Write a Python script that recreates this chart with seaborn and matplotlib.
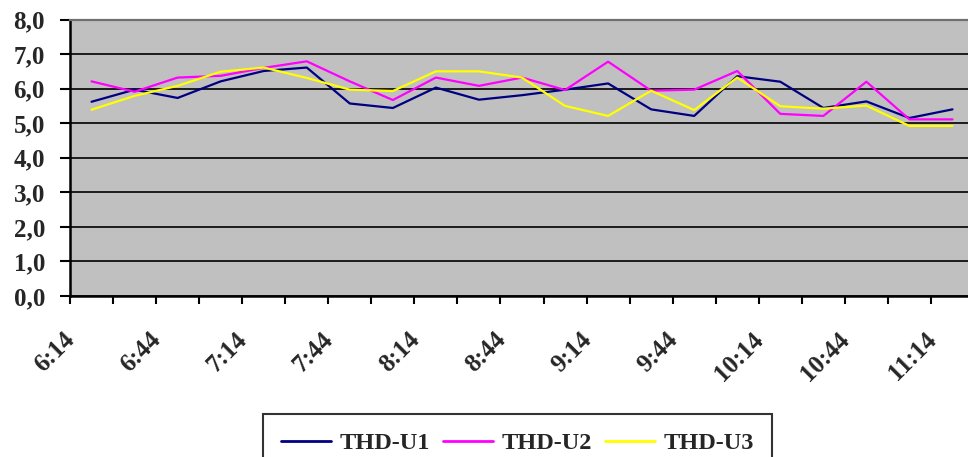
import matplotlib
matplotlib.use("Agg")
import matplotlib.pyplot as plt
import seaborn as sns
import pandas as pd
import numpy as np
from matplotlib.lines import Line2D

times = ["6:14", "6:29", "6:44", "6:59", "7:14", "7:29", "7:44", "7:59", "8:14", "8:29",
         "8:44", "8:59", "9:14", "9:29", "9:44", "9:59", "10:14", "10:29", "10:44", "10:59", "11:14"]
thd_u1 = [5.62, 5.97, 5.73, 6.21, 6.51, 6.61, 5.57, 5.44, 6.03, 5.68,
          5.81, 5.97, 6.15, 5.40, 5.21, 6.36, 6.20, 5.44, 5.63, 5.15, 5.40]
thd_u2 = [6.21, 5.91, 6.32, 6.37, 6.60, 6.79, 6.21, 5.67, 6.32, 6.08,
          6.32, 5.96, 6.78, 5.94, 5.97, 6.51, 5.27, 5.21, 6.20, 5.11, 5.11]
thd_u3 = [5.39, 5.79, 6.08, 6.49, 6.61, 6.31, 5.97, 5.93, 6.50, 6.50,
          6.32, 5.50, 5.21, 5.94, 5.38, 6.32, 5.49, 5.42, 5.51, 4.92, 4.92]
series_names = ["THD-U1", "THD-U2", "THD-U3"]
colors = ["#000080", "#FF00FF", "#FFFF00"]

sns.set_style("white")
plt.rcParams["font.family"] = ["Liberation Serif", "DejaVu Serif"]
plt.rcParams["font.weight"] = "bold"

idx = np.arange(len(times))
df = pd.DataFrame({
    "idx": np.concatenate([idx, idx, idx]),
    "value": thd_u1 + thd_u2 + thd_u3,
    "series": [series_names[0]] * len(times) + [series_names[1]] * len(times) + [series_names[2]] * len(times),
})

fig = plt.figure(figsize=(9.68, 4.57), dpi=100)
ax = fig.add_axes([70 / 968, 1 - 296 / 457, (974 - 70) / 968, (296 - 19.5) / 457])
ax.set_facecolor("#C0C0C0")

sns.lineplot(data=df, x="idx", y="value", hue="series", palette=colors,
             linewidth=1.6, ax=ax, legend=False, zorder=3)

ax.set_xlim(-0.5, len(times) - 0.5)
ax.set_ylim(0, 8)
yt = np.arange(0, 9, 1.0)
ax.set_yticks(yt)
ax.set_yticklabels([f"{v:.1f}".replace(".", ",") for v in yt], fontsize=18, fontweight="bold")
ax.yaxis.grid(True, color="black", linewidth=1.2, zorder=1)
ax.set_axisbelow(True)

# major ticks at category boundaries (no labels), minor ticks carry the time labels
bounds = np.arange(len(times) + 1) - 0.5
ax.set_xticks(bounds)
ax.set_xticklabels([""] * len(bounds))
label_idx = idx[::2]
ax.set_xticks(label_idx - 0.5 + 0.03, minor=True)
ax.set_xticklabels([times[i] for i in label_idx], minor=True, rotation=45, ha="right",
                   va="center", rotation_mode="anchor", fontsize=18, fontweight="bold")

ax.tick_params(axis="y", direction="out", length=7, width=1.5, color="black", pad=11, left=True)
ax.tick_params(axis="x", which="major", direction="out", length=6, width=1.5, color="black", bottom=True)
ax.tick_params(axis="x", which="minor", length=0, pad=29, bottom=True)

ax.set_xlabel("")
ax.set_ylabel("")
for s in ["left", "bottom"]:
    ax.spines[s].set_color("black")
    ax.spines[s].set_linewidth(1.8)
ax.spines["top"].set_color("#707070")
ax.spines["top"].set_linewidth(1.6)
ax.spines["right"].set_visible(False)

handles = [Line2D([0], [0], color=c, linewidth=2) for c in colors]
leg = fig.legend(handles, series_names, loc="upper left",
                 bbox_to_anchor=(263 / 968, 1 - 414 / 457), bbox_transform=fig.transFigure,
                 ncol=3, frameon=True, fancybox=False, shadow=False, borderaxespad=0,
                 prop={"family": "Liberation Serif", "weight": "bold", "size": 17.5},
                 handlelength=2.05, handletextpad=0.35, columnspacing=0.55, borderpad=0.75)
leg.get_frame().set_edgecolor("black")
leg.get_frame().set_linewidth(1.5)

fig.savefig("out.png", dpi=100, facecolor="white")
